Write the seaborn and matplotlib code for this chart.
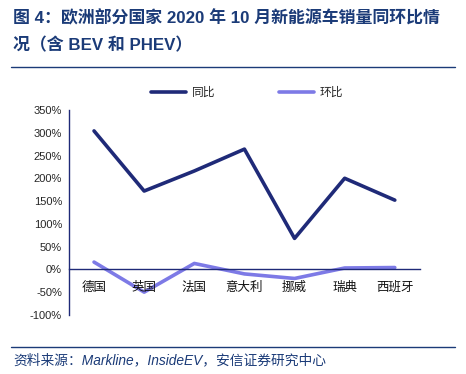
import matplotlib
matplotlib.use("Agg")
import matplotlib.pyplot as plt
import seaborn as sns
import pandas as pd
import numpy as np
from matplotlib.ticker import FuncFormatter, FixedLocator

sns.set_style("white")
plt.rcParams['font.family'] = ['Liberation Sans', 'Noto Sans CJK SC', 'DejaVu Sans']

countries = ["德国", "英国", "法国", "意大利", "挪威", "瑞典", "西班牙"]
yoy = [304, 172, 216, 264, 68, 200, 152]   # 同比 (%)
mom = [16, -50, 13, -10, -20, 3, 4]        # 环比 (%)

navy = "#1f2a78"
lilac = "#7d7ae6"
title_blue = "#1b3b78"

df = pd.DataFrame({
    "国家": countries * 2,
    "值": yoy + mom,
    "系列": ["同比"] * len(countries) + ["环比"] * len(countries),
})
df["pos"] = df["国家"].map({c: i for i, c in enumerate(countries)})

fig = plt.figure(figsize=(4.66, 3.74), dpi=100)
ax = fig.add_axes([0.148, 0.158, 0.753, 0.548])

sns.lineplot(data=df, x="pos", y="值", hue="系列", palette=[navy, lilac],
             linewidth=2.6, ax=ax, legend=False, sort=False)

ax.set_xlim(-0.5, len(countries) - 0.5)
ax.set_ylim(-100, 350)
ax.set_yticks(np.arange(-100, 351, 50))
ax.yaxis.set_major_formatter(FuncFormatter(lambda v, p: f"{int(v)}%"))
ax.set_xlabel("")
ax.set_ylabel("")

for s in ["top", "right"]:
    ax.spines[s].set_visible(False)
ax.spines["left"].set_color(navy)
ax.spines["left"].set_linewidth(1.0)
ax.spines["bottom"].set_position(("data", 0))
ax.spines["bottom"].set_color(navy)
ax.spines["bottom"].set_linewidth(1.0)

ax.xaxis.set_major_locator(FixedLocator(np.arange(-0.5, len(countries), 1.0)))
ax.xaxis.set_major_formatter(FuncFormatter(lambda v, p: ""))
ax.tick_params(axis="x", which="major", direction="in", length=4, color=navy)
ax.tick_params(axis="y", direction="out", length=3, color=navy, labelsize=8, pad=2)
for i, c in enumerate(countries):
    ax.text(i, -39, c, ha="center", va="center", fontsize=9,
            family=['Noto Sans CJK SC'], color="#111111")

handles = [plt.Line2D([], [], color=navy, lw=2.6), plt.Line2D([], [], color=lilac, lw=2.6)]
fig.legend(handles, ["同比", "环比"], loc="center", bbox_to_anchor=(0.53, 0.752),
           ncol=2, frameon=False, fontsize=8.5, handlelength=3.0, columnspacing=5.4,
           handletextpad=0.45)

fig.text(0.028, 0.952, "图 4：欧洲部分国家 2020 年 10 月新能源车销量同环比情",
         fontsize=12.2, fontweight="bold", color=title_blue, va="center")
fig.text(0.028, 0.88, "况（含 BEV 和 PHEV）", fontsize=12.2, fontweight="bold",
         color=title_blue, va="center")
fig.add_artist(plt.Line2D([0.024, 0.976], [0.822, 0.822], color=title_blue, lw=1.0))
fig.add_artist(plt.Line2D([0.024, 0.976], [0.072, 0.072], color=title_blue, lw=1.0))
fig.text(0.028, 0.037, "资料来源：Markline，InsideEV，安信证券研究中心", fontsize=9.9,
         style="italic", color=title_blue, va="center")

fig.savefig("out.png", dpi=100)
